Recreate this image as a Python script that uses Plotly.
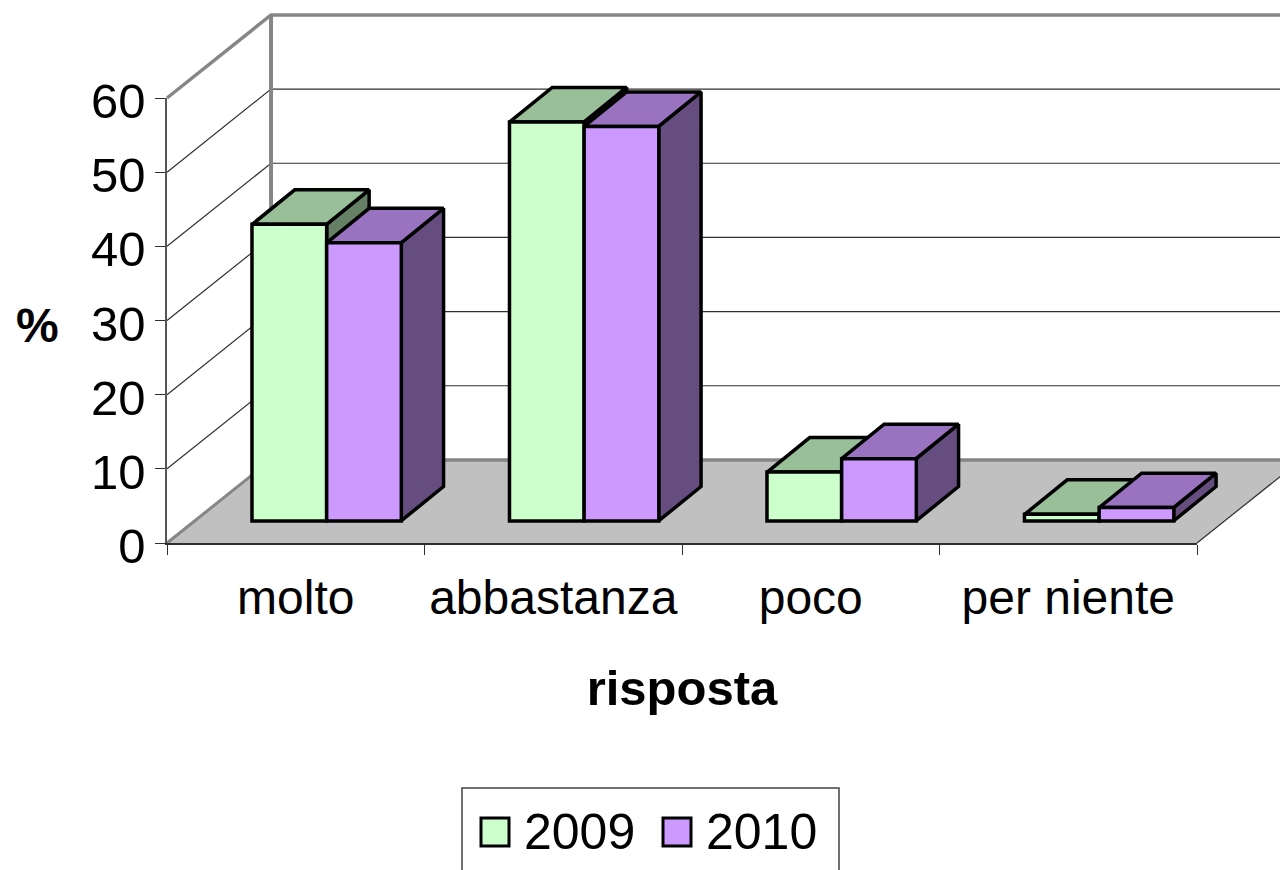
import plotly.graph_objects as go

categories = ["molto", "abbastanza", "poco", "per niente"]
series_names = ["2009", "2010"]
values_2009 = [40.0, 53.8, 6.6, 0.9]
values_2010 = [37.5, 53.2, 8.4, 1.8]
y_ticks = [0, 10, 20, 30, 40, 50, 60]

front_colors = ["#CCFFCC", "#CC99FF"]
top_colors = ["#99BF99", "#9973BF"]
side_colors = ["#668066", "#664D80"]

# Figure size (the page adds an 8 px body margin) and the front plane of the chart
W, H = 1288, 870
PLOT_L, PLOT_T, PLOT_W, PLOT_H = 159, 90, 1030, 445
N = len(categories)
YMAX = y_ticks[-1]
PX_X = PLOT_W / N
PX_Y = PLOT_H / YMAX

# Oblique projection, expressed in axis units
WALL_DX, WALL_DY = 0.404, 11.2   # depth of the floor / side wall
BAR_DX, BAR_DY = 0.165, 4.65     # depth of one bar
BAR_SHIFT, BAR_BASE = 0.12, 2.97 # where the bars' front plane sits
BAR_W = 0.289

x_range = [-PLOT_L / PX_X, (W - PLOT_L) / PX_X]
y_range = [-(H - PLOT_T - PLOT_H) / PX_Y, (PLOT_T + PLOT_H) / PX_Y]

fig = go.Figure()


def poly(xs, ys, fill=None, line="#000000", width=3.5):
    fig.add_trace(go.Scatter(
        x=xs, y=ys, mode="lines", showlegend=False, hoverinfo="skip",
        fill="toself" if fill else None, fillcolor=fill,
        line=dict(color=line, width=width, shape="linear"),
    ))


# floor
poly([0, N, N + WALL_DX, WALL_DX, 0], [0, 0, WALL_DY, WALL_DY, 0], fill="#C0C0C0", line="rgba(0,0,0,0)", width=0)
# gridlines on the side wall and back wall
for v in y_ticks[1:-1]:
    poly([0, WALL_DX, N + WALL_DX], [v, v + WALL_DY, v + WALL_DY], line="#303030", width=1.2)
# wall frame
poly([0, WALL_DX], [0, WALL_DY], line="#868686", width=3)
poly([WALL_DX, N + WALL_DX], [WALL_DY, WALL_DY], line="#868686", width=3.5)
poly([WALL_DX, WALL_DX], [WALL_DY, YMAX + WALL_DY], line="#868686", width=4)
poly([0, WALL_DX, N + WALL_DX], [YMAX, YMAX + WALL_DY, YMAX + WALL_DY], line="#868686", width=3.5)
poly([N, N + WALL_DX], [0, WALL_DY], line="#303030", width=1.2)

# tops and sides of the bars; the front faces are real bars on the overlay axes
for i in range(N):
    for s, vals in enumerate([values_2009, values_2010]):
        left = i + 0.5 + BAR_SHIFT + (s - 1) * BAR_W
        right = left + BAR_W
        top = BAR_BASE + vals[i]
        poly([right, right + BAR_DX, right + BAR_DX, right, right],
             [BAR_BASE, BAR_BASE + BAR_DY, top + BAR_DY, top, BAR_BASE],
             fill=side_colors[s])
        poly([left, left + BAR_DX, right + BAR_DX, right, left],
             [top, top + BAR_DY, top + BAR_DY, top, top],
             fill=top_colors[s])

for s, vals in enumerate([values_2009, values_2010]):
    fig.add_trace(go.Bar(
        x=[i + 0.5 + BAR_SHIFT for i in range(N)], y=vals, base=[BAR_BASE] * N,
        xaxis="x2", yaxis="y2", showlegend=False, name=series_names[s],
        marker=dict(color=front_colors[s], line=dict(color="#000000", width=3.5)),
    ))

# carrier of the visible axes
fig.add_trace(go.Scatter(x=[None], y=[None], xaxis="x3", yaxis="y3", showlegend=False, hoverinfo="skip"))

FONT = "Liberation Sans"


def px(x):
    return (x - 8) / W


def py(y):
    return 1 - (y - 8) / H


# legend box drawn by hand, because Plotly caps the size of legend swatches
shapes = [dict(type="rect", xref="paper", yref="paper", x0=px(462), x1=px(839), y0=py(890), y1=py(788),
               line=dict(color="#404040", width=1.5), fillcolor="#FFFFFF", layer="above")]
annotations = [dict(text="<b>%</b>", xref="paper", yref="paper", x=px(37), y=py(325), showarrow=False,
                    font=dict(family=FONT, size=48), xanchor="center", yanchor="middle")]
for name, color, sq_left, txt_left in zip(series_names, front_colors, [481, 663], [522, 704]):
    shapes.append(dict(type="rect", xref="paper", yref="paper", x0=px(sq_left), x1=px(sq_left + 28),
                       y0=py(846), y1=py(818), line=dict(color="#000000", width=3), fillcolor=color, layer="above"))
    annotations.append(dict(text=name, xref="paper", yref="paper", x=px(txt_left), y=py(832), showarrow=False,
                            font=dict(family=FONT, size=50), xanchor="left", yanchor="middle"))

fig.update_layout(
    width=W, height=H, autosize=False,
    margin=dict(l=0, r=0, t=0, b=0, autoexpand=False),
    paper_bgcolor="#FFFFFF", plot_bgcolor="rgba(0,0,0,0)",
    font=dict(family=FONT, size=48, color="#000000"),
    barmode="group", bargap=0.42, bargroupgap=0,
    showlegend=False,
    shapes=shapes, annotations=annotations,
    xaxis=dict(range=x_range, visible=False),
    yaxis=dict(range=y_range, visible=False),
    xaxis2=dict(overlaying="x", range=x_range, visible=False),
    yaxis2=dict(overlaying="y", range=y_range, visible=False),
    xaxis3=dict(
        domain=[PLOT_L / W, (PLOT_L + PLOT_W) / W], anchor="y3",
        range=[0, N], tickmode="array", tickvals=[i + 0.5 for i in range(N)], ticktext=categories,
        ticks="", showgrid=False, zeroline=False, showline=True, linecolor="#303030", linewidth=2,
        tickfont=dict(family=FONT, size=48), ticklabelstandoff=11,
        minor=dict(tickmode="array", tickvals=list(range(N + 1)), ticks="outside", ticklen=10,
                   tickwidth=1.2, tickcolor="#303030", showgrid=False),
        title=dict(text="<b>risposta</b>", font=dict(family=FONT, size=49), standoff=48),
    ),
    yaxis3=dict(
        domain=[(H - PLOT_T - PLOT_H) / H, (H - PLOT_T) / H], anchor="x3",
        range=[0, YMAX], tickmode="array", tickvals=y_ticks, ticks="outside", ticklen=10,
        tickwidth=1.2, tickcolor="#303030", showgrid=False, zeroline=False,
        showline=True, linecolor="#555555", linewidth=1.5,
        tickfont=dict(family=FONT, size=49), ticklabelstandoff=0, ticklabelshift=3,
    ),
)
fig.write_html("out.html")
